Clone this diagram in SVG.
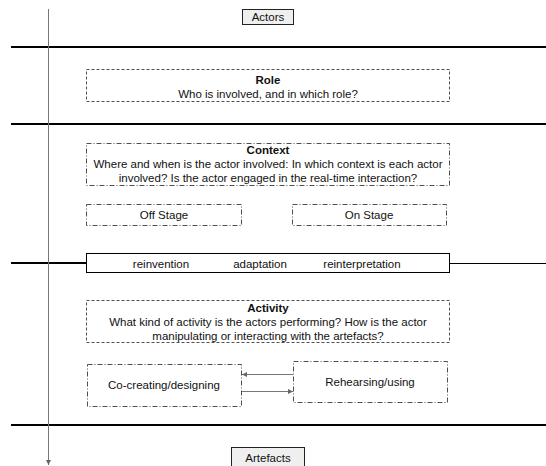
<svg xmlns="http://www.w3.org/2000/svg" width="546" height="466" viewBox="0 0 546 466">
<style>
text{font-family:"Liberation Sans",Arial,sans-serif;font-size:11.5px;fill:#111;text-anchor:middle}
.b{font-weight:bold}
.band{stroke:#000;stroke-width:2;fill:none}
.dash{fill:#fff;stroke:#222;stroke-width:0.8;stroke-dasharray:3 2}
.dd{fill:#fff;stroke:#222;stroke-width:0.8;stroke-dasharray:5 2 1 2}
.lbl{fill:#efefef;stroke:#222;stroke-width:1}
.conn{stroke:#777;stroke-width:1;fill:none}
</style>
<defs>
<marker id="ah" markerWidth="6" markerHeight="6" refX="5" refY="3" orient="auto" markerUnits="userSpaceOnUse">
<path d="M0,0.5 L5,3 L0,5.5 Z" fill="#666"/>
</marker>
</defs>
<g id="bands">
<line class="band" x1="11" y1="47" x2="546" y2="47"/>
<line class="band" x1="11" y1="124" x2="546" y2="124"/>
<line class="band" x1="11" y1="263" x2="86" y2="263"/>
<line x1="449" y1="263.5" x2="546" y2="263.5" stroke="#000" stroke-width="1"/>
<line class="band" x1="11" y1="425" x2="546" y2="425"/>
</g>
<g id="connectors">
<line class="conn" x1="48.5" y1="9" x2="48.5" y2="465" marker-end="url(#ah)"/>
<line class="conn" x1="293" y1="374.5" x2="242" y2="374.5" marker-end="url(#ah)"/>
<line class="conn" x1="241" y1="391.5" x2="293" y2="391.5" marker-end="url(#ah)"/>
</g>
<g id="actors">
<rect class="lbl" x="242.5" y="9.5" width="51" height="15"/>
<text x="268" y="21">Actors</text>
</g>
<g id="role">
<rect class="dash" x="86.5" y="69.5" width="363" height="32"/>
<text class="b" x="268" y="84">Role</text>
<text x="268" y="98">Who is involved, and in which role?</text>
</g>
<g id="context">
<rect class="dd" x="86.5" y="143.5" width="363" height="42"/>
<text class="b" x="268" y="154">Context</text>
<text x="268" y="168">Where and when is the actor involved: In which context is each actor</text>
<text x="268" y="182">involved? Is the actor engaged in the real-time interaction?</text>
</g>
<g id="offstage">
<rect class="dd" x="86.5" y="204.5" width="155" height="21"/>
<text x="164" y="219">Off Stage</text>
</g>
<g id="onstage">
<rect class="dd" x="292.5" y="204.5" width="154" height="21"/>
<text x="369" y="219">On Stage</text>
</g>
<g id="reinvention">
<rect x="86.5" y="253.5" width="363" height="19" fill="#fff" stroke="#000" stroke-width="1"/>
<text x="161" y="268">reinvention</text>
<text x="260" y="268">adaptation</text>
<text x="362" y="268">reinterpretation</text>
</g>
<g id="activity">
<rect class="dash" x="86.5" y="300.5" width="363" height="42"/>
<text class="b" x="268" y="312">Activity</text>
<text x="268" y="326">What kind of activity is the actors performing? How is the actor</text>
<text x="268" y="340">manipulating or interacting with the artefacts?</text>
</g>
<g id="cocreating">
<rect class="dd" x="87.5" y="364.5" width="154" height="42"/>
<text x="164" y="389">Co-creating/designing</text>
</g>
<g id="rehearsing">
<rect class="dd" x="293.5" y="361.5" width="154" height="41"/>
<text x="370" y="386">Rehearsing/using</text>
</g>
<g id="artefacts">
<rect class="lbl" x="231.5" y="447.5" width="73" height="20"/>
<text x="268" y="462">Artefacts</text>
</g>
</svg>
